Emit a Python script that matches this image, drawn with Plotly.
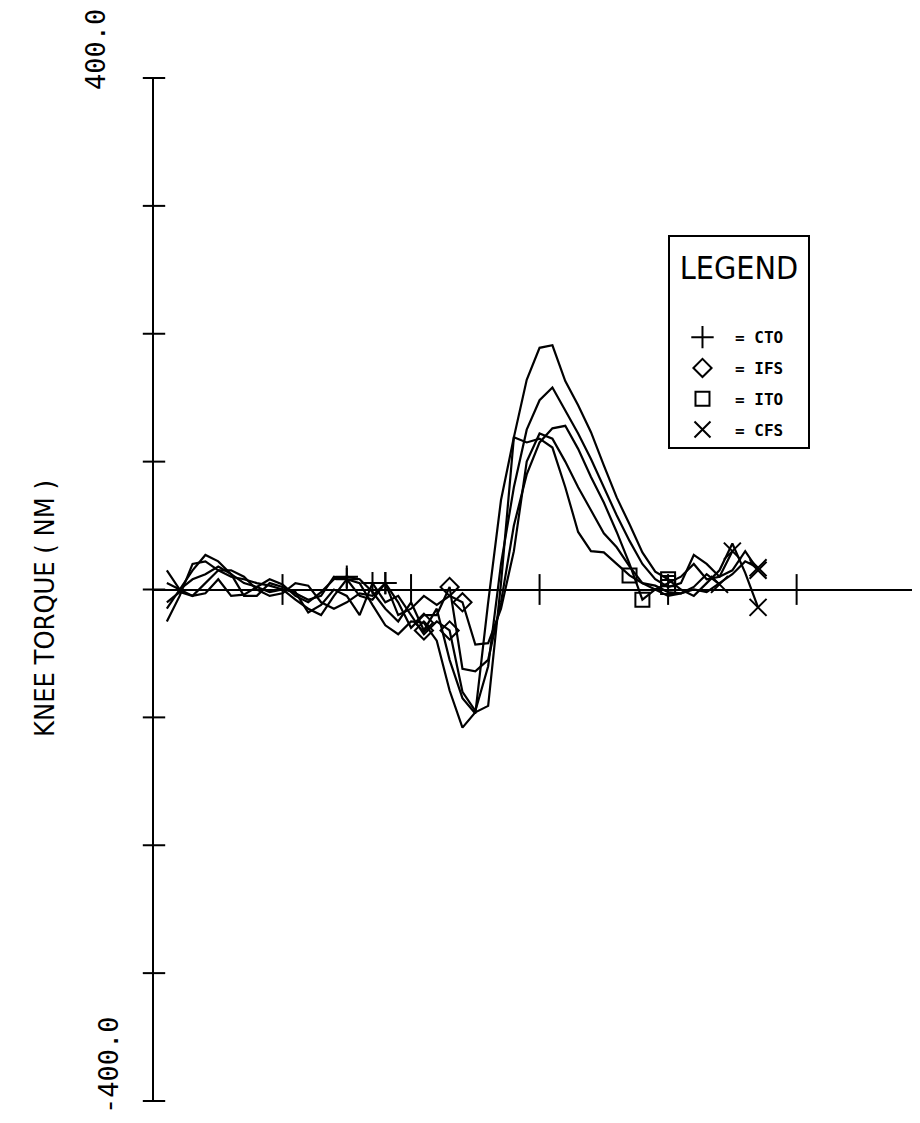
import plotly.graph_objects as go

# ---- data (frame index, knee torque in N*m) ----
curve_a = [15, 0, 15, 27, 22, 12, 5, 2, -2, 0,
           -8, -15, -20, -5, 8, 5, -12, -28, -35, -25,
           -26, -40, -79, -108, -96, -91, 5, 119, 164, 189,
           191, 163, 144, 123, 97, 72, 51, 29, 14, 8,
           0, -5, 5, 15, 36, 13, -14]
curve_b = [-25, -5, 20, 22, 15, 10, 8, 5, 3, 0,
           -2, -18, -12, 0, -5, -20, 5, -10, -5, -20,
           -35, -25, -32, -80, -95, -60, 20, 80, 125, 148,
           158, 140, 122, 102, 80, 58, 38, 20, 8, 2,
           5, 27, 20, 10, 15, 30, 15]
curve_c = [-15, 0, 8, 12, 18, 12, -5, -5, 5, 2,
           -3, -8, -5, 10, 8, -5, -8, 5, -10, -30,
           -20, -20, 2, -62, -64, -55, -10, 50, 90, 115,
           126, 128, 110, 88, 68, 45, 20, -8, 0, -5,
           -3, 2, 12, 4]
curve_d = [-10, -2, -5, 5, 15, 15, 10, 0, -5, -3,
           5, 3, -10, -15, -10, -3, -5, 5, -20, -15,
           -5, -12, -5, -10, -43, -42, -15, 30, 100, 122,
           118, 100, 80, 62, 44, 33, 18, 5, 0, 5,
           10, 20, 8, 10, 30]
curve_s = [5, 0, -5, -3, 8, -5, -4, 2, 8, 4,
           -5, -10, -2, 8, 10, 8, -2, -15, -25, -10,
           -32, -15, -55, -85, -97, -10, 70, 119, 115, 118,
           111, 80, 45, 30, 29, 20, 11, 5, 3, -2,
           -3, 0, -2, 5, 12, 22, 17]
curves = [curve_a, curve_b, curve_c, curve_d, curve_s]

# gait events: frame of each event for each curve (same order as curves)
event_names = ["CTO", "IFS", "ITO", "CFS"]
event_frames = {
    "CTO": [15, 17, 18, 18, 15],
    "IFS": [21, 23, 23, 24, 21],
    "ITO": [40, 40, 38, 40, 37],
    "CFS": [47, 47, 44, 45, 47],
}
event_symbols = {"CTO": "cross-thin-open", "IFS": "diamond-open",
                 "ITO": "square-open", "CFS": "x-thin-open"}
event_sizes = {"CTO": 16, "IFS": 14, "ITO": 14, "CFS": 17}

x_ticks = [10, 20, 30, 40, 50]
y_ticks = [-400, -300, -200, -100, 0, 100, 200, 300, 400]

fig = go.Figure()

for c in curves:
    fig.add_trace(go.Scatter(x=list(range(1, len(c) + 1)), y=c, mode="lines",
                             line=dict(color="black", width=2.2),
                             showlegend=False, hoverinfo="skip"))

# axis tick marks crossing the axes
fig.add_trace(go.Scatter(x=[0] * len(y_ticks), y=y_ticks, mode="markers",
                         marker=dict(symbol="line-ew", size=16,
                                     line=dict(color="black", width=2)),
                         showlegend=False, cliponaxis=False, hoverinfo="skip"))
fig.add_trace(go.Scatter(x=x_ticks, y=[0] * len(x_ticks), mode="markers",
                         marker=dict(symbol="line-ns", size=22,
                                     line=dict(color="black", width=2)),
                         showlegend=False, cliponaxis=False, hoverinfo="skip"))

for ev in event_names:
    xs = event_frames[ev]
    ys = [curves[i][f - 1] for i, f in enumerate(xs)]
    fig.add_trace(go.Scatter(x=xs, y=ys, mode="markers",
                             name="= " + ev + "\u00a0\u00a0",
                             legendgroup=ev,
                             marker=dict(symbol=event_symbols[ev], size=event_sizes[ev],
                                         color="black",
                                         line=dict(color="black", width=2)),
                             cliponaxis=False))

label_font = dict(family="DejaVu Sans Mono, monospace", size=27, color="black")
cond_font = "Liberation Sans Narrow, DejaVu Sans Condensed, Arial Narrow, sans-serif"

fig.add_annotation(text="400.0", x=-0.0757, y=1.0274, xref="paper", yref="paper",
                   textangle=-90, showarrow=False, font=label_font,
                   xanchor="center", yanchor="middle")
fig.add_annotation(text="-400.0", x=-0.0587, y=0.0352, xref="paper", yref="paper",
                   textangle=-90, showarrow=False, font=label_font,
                   xanchor="center", yanchor="middle")
fig.add_annotation(text="KNEE TORQUE ( NM )", x=-0.1423, y=0.482, xref="paper",
                   yref="paper", textangle=-90, showarrow=False,
                   font=dict(family=cond_font, size=27, color="black"),
                   xanchor="center", yanchor="middle")

fig.update_layout(
    width=912, height=1115,
    margin=dict(l=146, r=0, t=70, b=22),
    paper_bgcolor="white", plot_bgcolor="white",
    showlegend=True,
    legend=dict(x=0.671, y=0.8465, xanchor="left", yanchor="top",
                bordercolor="black", borderwidth=2, bgcolor="white",
                font=dict(family="DejaVu Sans Mono, monospace", size=16,
                          color="black", weight="bold"),
                title=dict(text="LEGEND<br> ", side="top center",
                           font=dict(family=cond_font, size=32, color="black",
                                     weight="normal")),
                itemwidth=55, tracegroupgap=7),
    xaxis=dict(range=[0, 59.6], showgrid=False, zeroline=False, showline=False,
               showticklabels=False, ticks="", fixedrange=True),
    yaxis=dict(range=[-400, 400], showgrid=False, zeroline=True,
               zerolinecolor="black", zerolinewidth=2,
               showline=True, linecolor="black", linewidth=2,
               showticklabels=False, ticks="", fixedrange=True),
)

fig.write_html("out.html")
